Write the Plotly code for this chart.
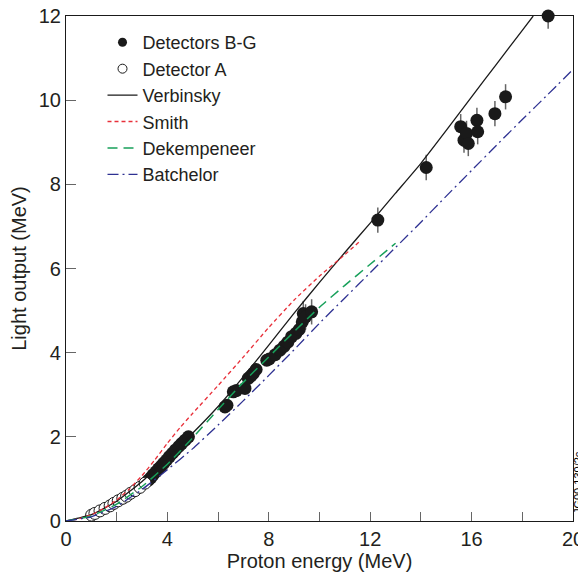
import plotly.graph_objects as go

# ---- data ----
bg_energy = [3.25, 3.35, 3.44, 3.55, 3.65, 3.75, 3.85, 3.97, 4.08, 4.20, 4.32, 4.45, 4.56, 4.70, 4.83,
             6.27, 6.35, 6.60, 6.72, 7.06, 7.19, 7.30, 7.39, 7.50, 7.92, 8.02, 8.25, 8.44, 8.60,
             8.75, 8.90, 9.07, 9.20, 9.32, 9.36, 9.45, 9.69,
             12.30, 14.21, 15.57, 15.70, 15.80, 15.87, 16.21, 16.24, 16.92, 17.34, 19.02]
bg_light = [0.97, 1.03, 1.10, 1.17, 1.24, 1.30, 1.37, 1.45, 1.53, 1.61, 1.69, 1.77, 1.84, 1.92, 2.00,
            2.71, 2.75, 3.07, 3.10, 3.15, 3.39, 3.45, 3.51, 3.60, 3.82, 3.85, 3.95, 4.06, 4.15,
            4.25, 4.38, 4.46, 4.55, 4.73, 4.93, 4.85, 4.97,
            7.15, 8.40, 9.37, 9.05, 9.21, 8.97, 9.52, 9.25, 9.68, 10.08, 12.0]
bg_err = ([0.05] * 15 + [0.1] * 16 + [0.15, 0.2, 0.3, 0.3, 0.3] + [0.3] * 11 + [0.3])[:48]

a_energy = [1.01, 1.14, 1.34, 1.54, 1.74, 1.89, 2.06, 2.24, 2.39, 2.55, 2.72, 2.92, 3.12]
a_light = [0.14, 0.18, 0.24, 0.30, 0.36, 0.42, 0.48, 0.54, 0.59, 0.66, 0.72, 0.80, 0.90]

verb_e = [0, 1, 2, 3, 4, 5, 6, 7, 8, 9, 10, 11, 12, 13, 14, 15, 16, 17, 18, 18.43]
verb_l = [0, 0.15, 0.47, 0.94, 1.51, 2.09, 2.72, 3.43, 4.18, 4.94, 5.67, 6.38, 7.08, 7.79, 8.5,
          9.28, 10.08, 10.87, 11.66, 12.0]

smith_e = [0, 0.5, 1, 1.5, 2, 2.5, 3, 3.5, 4, 4.5, 5, 6, 7, 8, 9, 10, 11, 11.6]
smith_l = [0, 0.05, 0.15, 0.3, 0.5, 0.76, 1.08, 1.45, 1.85, 2.22, 2.56, 3.22, 3.9, 4.6, 5.25, 5.82, 6.33, 6.65]

dek_e = [0, 1, 2, 3, 4, 5, 6, 7, 8, 9, 10, 11, 12, 13]
dek_l = [0, 0.12, 0.4, 0.82, 1.35, 1.98, 2.65, 3.3, 3.9, 4.5, 5.08, 5.6, 6.1, 6.6]

bat_e = [0, 1, 2, 3, 4, 5, 6, 7, 8, 9, 10, 11, 12, 13, 14, 15, 16, 17, 18, 19, 20]
bat_l = [0, 0.1, 0.35, 0.75, 1.22, 1.72, 2.28, 2.86, 3.46, 4.07, 4.7, 5.3, 5.9, 6.5, 7.1,
         7.72, 8.33, 8.94, 9.54, 10.13, 10.73]

x_ticks = [0, 2, 4, 6, 8, 10, 12, 14, 16, 18, 20]
x_ticktext = ["0", "", "4", "", "8", "", "12", "", "16", "", "20"]
y_ticks = [0, 2, 4, 6, 8, 10, 12]

FONT = "Liberation Sans, Arial, Helvetica, sans-serif"
TXT = "#231f20"
FS = 20

fig = go.Figure()

fig.add_trace(go.Scatter(
    x=bg_energy, y=bg_light, mode="markers", showlegend=False,
    marker=dict(symbol="circle", size=13, color="#1a1a1a", line=dict(width=0)),
    error_y=dict(type="data", array=bg_err, color="#666666", thickness=1.5, width=0),
    cliponaxis=False))

fig.add_trace(go.Scatter(
    x=a_energy, y=a_light, mode="markers", showlegend=False,
    marker=dict(symbol="circle", size=12, color="white", line=dict(width=1, color="#1a1a1a")),
    cliponaxis=False))

fig.add_trace(go.Scatter(
    x=[None], y=[None], mode="markers", name="Detectors B-G", legendrank=1,
    marker=dict(symbol="circle", size=9, color="#1a1a1a")))
fig.add_trace(go.Scatter(
    x=[None], y=[None], mode="markers", name="Detector A", legendrank=2,
    marker=dict(symbol="circle", size=9, color="white", line=dict(width=1, color="#1a1a1a"))))

fig.add_trace(go.Scatter(
    x=verb_e, y=verb_l, mode="lines", name="Verbinsky", legendrank=3,
    line=dict(color="#1a1a1a", width=1.3, shape="spline", smoothing=0.5)))

fig.add_trace(go.Scatter(
    x=smith_e, y=smith_l, mode="lines", name="Smith", legendrank=4,
    line=dict(color="#e8303a", width=1.3, dash="4px,3px", shape="spline", smoothing=0.5)))

fig.add_trace(go.Scatter(
    x=dek_e, y=dek_l, mode="lines", name="Dekempeneer", legendrank=5,
    line=dict(color="#17a05a", width=1.5, dash="10px,6px", shape="spline", smoothing=0.5)))

fig.add_trace(go.Scatter(
    x=bat_e, y=bat_l, mode="lines", name="Batchelor", legendrank=6,
    line=dict(color="#2e3192", width=1.3, dash="11px,4px,2px,4px", shape="spline", smoothing=0.5)))

fig.add_annotation(
    text="JG00.130/2c", textangle=-90, xref="paper", yref="paper",
    x=1.009, y=0.0, xanchor="center", yanchor="bottom", yshift=5,
    showarrow=False, font=dict(family=FONT, size=11, color="#000000"))

# the page body has an 8px margin, so the figure is made smaller than the window
fig.update_layout(
    width=578, height=564,
    margin=dict(l=58, r=13, t=8, b=51, autoexpand=False),
    paper_bgcolor="white", plot_bgcolor="white",
    font=dict(family=FONT, size=FS, color=TXT),
    showlegend=True,
    legend=dict(x=0.072, y=0.984, xanchor="left", yanchor="top",
                bgcolor="rgba(0,0,0,0)", font=dict(family=FONT, size=18, color=TXT),
                tracegroupgap=0, itemsizing="trace"),
    xaxis=dict(range=[0, 20], tickmode="array", tickvals=x_ticks, ticktext=x_ticktext,
               ticks="inside", ticklen=9, tickcolor="#666666", tickwidth=1,
               showline=True, linecolor="#1a1a1a", linewidth=1.2, mirror=True,
               showgrid=False, zeroline=False, automargin=False, ticklabeloverflow="allow",
               title=dict(text="Proton energy (MeV)", standoff=7,
                          font=dict(family=FONT, size=FS, color=TXT)),
               tickfont=dict(family=FONT, size=FS, color=TXT)),
    yaxis=dict(range=[0, 12], tickmode="array", tickvals=y_ticks,
               ticks="inside", ticklen=10, tickcolor="#666666", tickwidth=1,
               showline=True, linecolor="#1a1a1a", linewidth=1.2, mirror=True,
               showgrid=False, zeroline=False, automargin=False, ticklabeloverflow="allow",
               title=dict(text="Light output (MeV)", standoff=6,
                          font=dict(family=FONT, size=FS, color=TXT)),
               tickfont=dict(family=FONT, size=FS, color=TXT)),
)

fig.write_html("out.html")
